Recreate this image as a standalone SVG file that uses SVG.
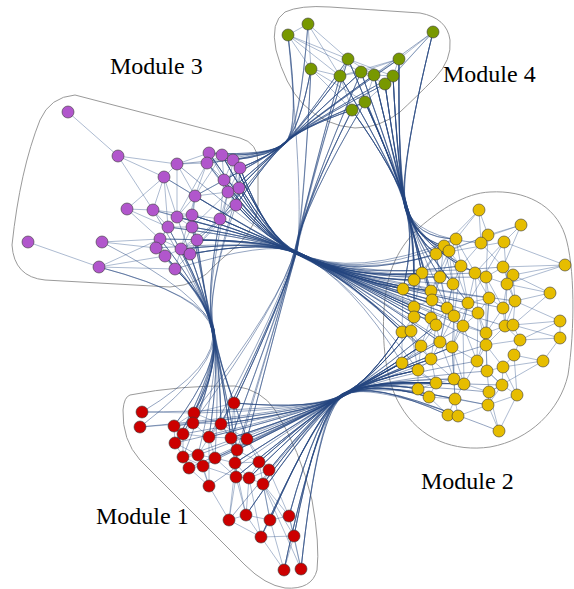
<svg xmlns="http://www.w3.org/2000/svg" width="574" height="589" viewBox="0 0 574 589">
<style>
.hull{fill:none;stroke:#9a9a9a;stroke-width:1}
.e{fill:none;stroke:#3a5c90;stroke-width:0.6;stroke-opacity:0.7}
.b{fill:none;stroke:#23457f;stroke-width:0.65;stroke-opacity:0.75}
circle{stroke:#3a3a3a;stroke-width:0.6}
.m1{fill:#cc0000}
.m2{fill:#e6bd00}
.m3{fill:#b156cc}
.m4{fill:#789800}
.lab{font-family:"Liberation Serif","Times New Roman",serif;font-size:24px;fill:#000}
</style>
<rect width="574" height="589" fill="#fff"/>
<g id="hulls">
<path id="hull-m3" class="hull" d="M75 95 L240 138 Q258 143 258 162 L258 205 Q257 225 240 243 L215 265 Q200 285 170 287 L45 280 Q14 277 12 245 Q20 170 40 120 Q50 97 75 95 Z"/>
<path id="hull-m4" class="hull" d="M285 12 Q300 5 330 7 L420 13 Q447 18 450 40 Q452 60 435 78 Q415 98 400 112 Q380 128 355 128 Q325 126 303 104 Q285 85 276 50 Q270 22 285 12 Z"/>
<path id="hull-m2" class="hull" d="M490 192 C525 190 555 205 565 235 C575 265 575 330 568 375 C560 410 530 440 490 447 C455 452 420 440 400 405 C385 380 382 340 384 310 C386 270 400 245 420 227 C440 210 465 193 490 192 Z"/>
<path id="hull-m1" class="hull" d="M130 395 Q180 385 235 386 Q262 390 275 410 Q300 450 312 500 Q320 545 317 570 Q312 590 285 588 Q265 585 245 565 L140 460 Q122 440 123 410 Q124 397 130 395 Z"/>
</g>
<g id="connectors">
<path id="edges-m3" class="e" d="M68 112L118 156M118 156L164 177M118 156L177 164M118 156L153 210M177 164L164 177M177 164L207 163M177 164L209 153M177 164L195 196M164 177L153 210M164 177L195 196M164 177L177 217M164 177L127 209M209 153L222 155M209 153L207 163M209 153L233 160M209 153L224 180M222 155L207 163M222 155L233 160M222 155L240 168M222 155L224 180M207 163L224 180M207 163L195 196M207 163L228 192M233 160L240 168M233 160L224 180M233 160L239 188M240 168L224 180M240 168L239 188M240 168L236 205M224 180L239 188M224 180L228 192M224 180L195 196M239 188L228 192M239 188L236 205M228 192L236 205M228 192L220 219M228 192L195 196M236 205L220 219M195 196L177 217M195 196L192 215M195 196L192 227M127 209L153 210M127 209L160 239M153 210L177 217M153 210L168 227M153 210L192 215M177 217L192 215M177 217L168 227M177 217L192 227M192 215L192 227M192 215L220 219M192 215L197 240M220 219L197 240M220 219L190 254M168 227L192 227M168 227L160 239M168 227L156 248M192 227L197 240M192 227L181 249M160 239L156 248M160 239L181 249M160 239L165 256M197 240L190 254M197 240L181 249M156 248L165 256M156 248L175 269M181 249L190 254M181 249L165 256M181 249L175 269M190 254L175 269M165 256L175 269M28 242L99 267M102 242L160 239M102 242L156 248M99 267L175 269M99 267L165 256M99 267L160 239M127 209L168 227M207 163L177 217M222 155L195 196M224 180L220 219M233 160L228 192M236 205L197 240M239 188L220 219M240 168L228 192M164 177L168 227M177 164L177 217M195 196L181 249M228 192L192 227M220 219L181 249M236 205L190 254"/>
<path id="edges-m4" class="e" d="M308 24L288 35M288 35L348 59M288 35L340 76M308 24L311 69M288 35L311 69M311 69L340 76M348 59L374 75M433 32L399 59M433 32L385 84M433 32L393 76M399 59L361 72M399 59L340 76M399 59L374 75M340 76L361 72M361 72L374 75M374 75L393 76M393 76L385 84M385 84L365 102M365 102L352 110M340 76L352 110M348 59L393 76M288 35L361 72M308 24L340 76M311 69L352 110M348 59L340 76M361 72L385 84M399 59L393 76M374 75L365 102M308 24L348 59M311 69L365 102"/>
<path id="edges-m1" class="e" d="M234 403L221 424M234 403L231 438M234 403L194 413M234 403L209 437M234 403L237 450M142 412L194 413M140 427L193 423M194 413L193 423M194 413L174 426M194 413L221 424M193 423L174 426M193 423L183 434M193 423L209 437M193 423L221 424M174 426L183 434M174 426L175 443M221 424L209 437M221 424L231 438M221 424L247 439M183 434L175 443M183 434L209 437M183 434L183 457M209 437L231 438M209 437L198 455M209 437L215 458M231 438L247 439M231 438L237 450M231 438L235 463M247 439L237 450M247 439L259 462M175 443L183 457M175 443L198 455M237 450L215 458M237 450L235 463M237 450L259 462M183 457L198 455M183 457L189 468M183 457L203 466M198 455L215 458M198 455L203 466M215 458L235 463M215 458L203 466M215 458L236 477M235 463L259 462M235 463L236 477M235 463L249 478M259 462L269 470M259 462L249 478M189 468L203 466M189 468L209 486M203 466L209 486M203 466L236 477M269 470L263 484M269 470L249 478M236 477L249 478M236 477L229 520M249 478L263 484M249 478L246 515M263 484L270 520M209 486L229 520M229 520L246 515M229 520L261 537M246 515L270 520M246 515L261 537M270 520L289 516M270 520L261 537M270 520L284 570M289 516L294 536M289 516L301 569M261 537L284 570M261 537L294 536M294 536L301 569M236 477L246 515M263 484L289 516M237 450L229 520M235 463L246 515M247 439L269 470M209 437L209 486M234 403L247 439M237 450L236 477M263 484L294 536M259 462L270 520M269 470L289 516M249 478L261 537M294 536L284 570M263 484L301 569M198 455L209 486M221 424L237 450"/>
<path id="edges-m2" class="e" d="M479 210L456 239M479 210L481 243M479 210L436 254M479 210L488 235M521 225L488 235M521 225L504 242M521 225L436 254M521 225L503 267M456 239L444 246M456 239L461 266M456 239L475 273M456 239L432 300M488 235L481 243M488 235L449 251M488 235L486 277M481 243L461 266M481 243L503 267M504 242L475 273M504 242L507 284M504 242L436 254M504 242L468 303M444 246L422 273M444 246L440 277M444 246L453 284M449 251L461 266M449 251L431 291M449 251L468 303M449 251L453 284M436 254L414 280M436 254L440 277M436 254L447 308M436 254L422 273M565 265L503 267M565 265L513 275M565 265L504 242M565 265L507 284M461 266L475 273M461 266L453 284M461 266L468 303M461 266L454 316M503 267L513 275M503 267L486 277M503 267L515 301M475 273L486 277M475 273L489 298M475 273L478 313M475 273L463 326M513 275L507 284M513 275L515 301M513 275L550 293M486 277L507 284M486 277L489 298M486 277L503 308M486 277L486 333M422 273L414 280M422 273L431 291M422 273L414 307M422 273L432 300M414 280L403 289M414 280L432 300M414 280L414 317M440 277L431 291M440 277L447 308M440 277L432 300M453 284L468 303M453 284L454 316M453 284L447 308M453 284L440 342M507 284L515 301M507 284L503 308M507 284L505 326M403 289L414 307M403 289L402 332M403 289L431 291M431 291L432 300M431 291L431 318M431 291L447 308M550 293L515 301M550 293L513 325M550 293L507 284M432 300L414 307M432 300L431 318M432 300L436 325M489 298L468 303M489 298L503 308M489 298L478 313M489 298L486 333M489 298L486 345M515 301L503 308M515 301L513 325M515 301L505 326M468 303L478 313M468 303L454 316M468 303L463 326M468 303L452 347M414 307L414 317M414 307L411 331M447 308L454 316M447 308L436 325M447 308L440 342M503 308L505 326M503 308L486 333M478 313L463 326M478 313L486 333M478 313L486 345M478 313L477 361M414 317L402 332M414 317L411 331M414 317L431 318M431 318L436 325M431 318L421 346M454 316L463 326M454 316L452 347M454 316L440 342M454 316L454 379M560 321L513 325M560 321L520 340M560 321L560 338M560 321L515 301M436 325L440 342M436 325L421 346M436 325L431 359M463 326L486 333M463 326L452 347M463 326L477 361M463 326L464 384M505 326L513 325M505 326L486 333M505 326L520 340M505 326L486 345M513 325L520 340M402 332L411 331M402 332L402 363M402 332L421 346M411 331L421 346M411 331L418 370M486 333L486 345M486 333L477 361M486 333L487 371M440 342L452 347M440 342L431 359M440 342L454 379M520 340L560 338M520 340L514 355M520 340L486 345M560 338L513 325M560 338L543 361M421 346L402 363M421 346L431 359M421 346L418 370M452 347L477 361M452 347L454 379M452 347L464 384M452 347L455 399M486 345L477 361M486 345L503 367M486 345L487 371M514 355L543 361M514 355L503 367M514 355L517 395M543 361L503 367M543 361L489 392M402 363L418 370M402 363L436 383M431 359L418 370M431 359L436 383M431 359L454 379M477 361L487 371M477 361L464 384M477 361L502 385M503 367L487 371M503 367L502 385M503 367L517 395M418 370L418 389M418 370L436 383M487 371L502 385M487 371L489 392M454 379L464 384M454 379L436 383M454 379L455 399M436 383L418 389M436 383L429 397M464 384L455 399M464 384L489 392M502 385L489 392M502 385L517 395M502 385L488 405M418 389L429 397M429 397L448 415M429 397L455 399M489 392L488 405M489 392L499 431M517 395L488 405M517 395L499 431M455 399L448 415M455 399L458 416M455 399L488 405M488 405L499 431M488 405L458 416M448 415L458 416"/>
<path id="bundle-m3-m4" class="b" d="M209 153Q270 156 285 143Q300 128 288 35M209 153Q270 156 284 144Q300 128 340 76M222 155Q270 156 286 142Q300 128 308 24M222 155Q270 156 285 143Q300 128 361 72M233 160Q270 156 284 143Q300 128 348 59M233 160Q270 156 285 144Q300 128 352 110M240 168Q270 156 286 143Q300 128 288 35M240 168Q270 156 285 142Q300 128 374 75M240 168Q270 156 284 144Q300 128 365 102M239 188Q270 156 285 143Q300 128 311 69M239 188Q270 156 286 142Q300 128 393 76M239 188Q270 156 284 143Q300 128 340 76M236 205Q270 156 285 144Q300 128 385 84M236 205Q270 156 286 143Q300 128 361 72M224 180Q270 156 285 142Q300 128 365 102M224 180Q270 156 284 144Q300 128 433 32M228 192Q270 156 286 142Q300 128 399 59M228 192Q270 156 285 143Q300 128 352 110M207 163Q270 156 284 143Q300 128 311 69M207 163Q270 156 285 144Q300 128 374 75M220 219Q270 156 286 143Q300 128 340 76M220 219Q270 156 285 142Q300 128 365 102M177 164Q270 156 284 144Q300 128 308 24M195 196Q270 156 286 142Q300 128 361 72M236 205Q270 156 285 143Q300 128 352 110M222 155Q270 156 284 143Q300 128 385 84M233 160Q270 156 285 144Q300 128 311 69M239 188Q270 156 286 143Q300 128 399 59M240 168Q270 156 285 142Q300 128 393 76M228 192Q270 156 284 144Q300 128 348 59"/>
<path id="bundle-m3-m2" class="b" d="M209 153Q268 240 297 253Q352 280 436 254M209 153Q268 240 296 254Q352 280 403 289M222 155Q268 240 298 252Q352 280 414 280M222 155Q268 240 297 253Q352 280 414 307M207 163Q268 240 296 253Q352 280 422 273M233 160Q268 240 297 254Q352 280 431 291M233 160Q268 240 298 253Q352 280 402 332M240 168Q268 240 297 252Q352 280 444 246M240 168Q268 240 296 254Q352 280 432 300M224 180Q268 240 297 253Q352 280 403 289M224 180Q268 240 298 254Q352 280 431 318M239 188Q268 240 296 252Q352 280 440 277M239 188Q268 240 297 253Q352 280 411 331M228 192Q268 240 298 253Q352 280 422 273M228 192Q268 240 297 254Q352 280 447 308M236 205Q268 240 296 253Q352 280 436 254M236 205Q268 240 297 252Q352 280 414 317M236 205Q268 240 298 254Q352 280 436 325M195 196Q268 240 297 253Q352 280 414 280M195 196Q268 240 296 254Q352 280 421 346M177 217Q268 240 298 252Q352 280 431 291M177 217Q268 240 297 253Q352 280 414 307M192 215Q268 240 296 253Q352 280 403 289M192 215Q268 240 297 254Q352 280 454 316M220 219Q268 240 298 253Q352 280 422 273M220 219Q268 240 297 252Q352 280 432 300M220 219Q268 240 296 254Q352 280 402 332M220 219Q268 240 297 253Q352 280 402 363M168 227Q268 240 298 254Q352 280 414 280M192 227Q268 240 296 252Q352 280 414 307M192 227Q268 240 297 253Q352 280 411 331M197 240Q268 240 298 253Q352 280 403 289M197 240Q268 240 297 254Q352 280 414 317M197 240Q268 240 296 253Q352 280 431 291M181 249Q268 240 297 252Q352 280 422 273M181 249Q268 240 298 254Q352 280 431 318M190 254Q268 240 296 253Q352 280 402 332M190 254Q268 240 297 253Q352 280 440 277M156 248Q268 240 298 252Q352 280 403 289M160 239Q268 240 297 254Q352 280 414 307M153 210Q268 240 296 253Q352 280 414 280M177 164Q268 240 297 253Q352 280 431 291M164 177Q268 240 298 254Q352 280 403 289M224 180Q268 240 296 252Q352 280 449 251M239 188Q268 240 297 253Q352 280 468 303M228 192Q268 240 298 253Q352 280 440 342M240 168Q268 240 296 254Q352 280 461 266M222 155Q268 240 297 252Q352 280 456 239M233 160Q268 240 298 254Q352 280 453 284M236 205Q268 240 296 253Q352 280 447 308M190 254Q268 240 297 254Q352 280 421 346M175 269Q268 240 298 252Q352 280 402 332M192 215Q268 240 296 253Q352 280 431 359M197 240Q268 240 297 253Q352 280 418 370M209 153Q268 240 297 253Q352 280 486 277M222 155Q268 240 296 254Q352 280 489 298M233 160Q268 240 298 252Q352 280 503 308M240 168Q268 240 297 253Q352 280 475 273M224 180Q268 240 296 253Q352 280 478 313M239 188Q268 240 297 254Q352 280 505 326M228 192Q268 240 298 253Q352 280 463 326M236 205Q268 240 297 252Q352 280 486 333M195 196Q268 240 296 254Q352 280 454 316M177 217Q268 240 297 253Q352 280 468 303M192 215Q268 240 298 254Q352 280 486 345M220 219Q268 240 296 252Q352 280 515 301M192 227Q268 240 297 253Q352 280 452 347M197 240Q268 240 298 253Q352 280 436 325M181 249Q268 240 297 254Q352 280 447 308M190 254Q268 240 296 253Q352 280 440 342M207 163Q268 240 297 252Q352 280 503 267M233 160Q268 240 298 254Q352 280 461 266M168 227Q268 240 296 253Q352 280 431 318M160 239Q268 240 297 253Q352 280 414 317"/>
<path id="bundle-m4-m2" class="b" d="M433 32Q398 175 406 207Q415 238 436 254M433 32Q398 175 405 208Q415 238 422 273M399 59Q398 175 407 206Q415 238 444 246M399 59Q398 175 406 207Q415 238 414 280M399 59Q398 175 405 206Q415 238 403 289M374 75Q398 175 407 208Q415 238 449 251M374 75Q398 175 406 206Q415 238 422 273M374 75Q398 175 405 207Q415 238 431 291M393 76Q398 175 407 207Q415 238 456 239M393 76Q398 175 406 208Q415 238 414 280M393 76Q398 175 405 206Q415 238 432 300M385 84Q398 175 407 206Q415 238 436 254M385 84Q398 175 406 207Q415 238 440 277M385 84Q398 175 405 208Q415 238 403 289M365 102Q398 175 407 207Q415 238 444 246M365 102Q398 175 406 206Q415 238 422 273M365 102Q398 175 405 207Q415 238 414 307M352 110Q398 175 407 208Q415 238 414 280M352 110Q398 175 406 207Q415 238 461 266M352 110Q398 175 405 206Q415 238 431 291M361 72Q398 175 407 206Q415 238 436 254M361 72Q398 175 406 208Q415 238 403 289M348 59Q398 175 405 207Q415 238 422 273M348 59Q398 175 407 207Q415 238 456 239M340 76Q398 175 406 206Q415 238 414 280M340 76Q398 175 405 208Q415 238 449 251M393 76Q398 175 407 206Q415 238 453 284M385 84Q398 175 406 207Q415 238 444 246M365 102Q398 175 405 206Q415 238 481 243M374 75Q398 175 407 207Q415 238 475 273M399 59Q398 175 406 208Q415 238 432 300M433 32Q398 175 405 207Q415 238 461 266M433 32Q398 175 406 207Q415 238 475 273M399 59Q398 175 405 208Q415 238 461 266M374 75Q398 175 407 206Q415 238 440 277M393 76Q398 175 406 207Q415 238 468 303M385 84Q398 175 405 206Q415 238 447 308M365 102Q398 175 407 208Q415 238 453 284M352 110Q398 175 406 206Q415 238 432 300M361 72Q398 175 405 207Q415 238 449 251M348 59Q398 175 407 207Q415 238 414 307M340 76Q398 175 406 208Q415 238 436 254"/>
<path id="bundle-m4-m1" class="b" d="M311 69Q304 205 296 250Q283 300 234 403M340 76Q304 205 297 249Q283 300 221 424M365 102Q304 205 295 251Q283 300 231 438M352 110Q304 205 296 250Q283 300 234 403M352 110Q304 205 297 251Q283 300 247 439M348 59Q304 205 295 249Q283 300 194 413M361 72Q304 205 296 251Q283 300 237 450M288 35Q304 205 297 250Q283 300 221 424M365 102Q304 205 295 250Q283 300 209 437M340 76Q304 205 296 249Q283 300 235 463M311 69Q304 205 297 251Q283 300 231 438M352 110Q304 205 295 249Q283 300 193 423M361 72Q304 205 296 250Q283 300 234 403M348 59Q304 205 297 250Q283 300 247 439"/>
<path id="bundle-m3-m1" class="b" d="M168 227Q205 295 213 330Q220 365 194 413M168 227Q205 295 212 331Q220 365 183 434M192 227Q205 295 214 329Q220 365 234 403M192 227Q205 295 213 330Q220 365 209 437M160 239Q205 295 212 330Q220 365 193 423M160 239Q205 295 214 331Q220 365 175 443M197 240Q205 295 213 329Q220 365 221 424M197 240Q205 295 212 331Q220 365 231 438M156 248Q205 295 214 330Q220 365 174 426M156 248Q205 295 213 331Q220 365 183 457M181 249Q205 295 212 329Q220 365 234 403M181 249Q205 295 214 330Q220 365 198 455M190 254Q205 295 213 330Q220 365 209 437M190 254Q205 295 212 331Q220 365 237 450M165 256Q205 295 214 329Q220 365 194 413M165 256Q205 295 213 331Q220 365 215 458M175 269Q205 295 212 330Q220 365 221 424M175 269Q205 295 214 330Q220 365 183 434M177 217Q205 295 213 329Q220 365 193 423M192 215Q205 295 212 331Q220 365 231 438M220 219Q205 295 214 331Q220 365 234 403M220 219Q205 295 213 330Q220 365 247 439M99 267Q205 295 212 330Q220 365 142 412M99 267Q205 295 214 329Q220 365 140 427M102 242Q205 295 213 331Q220 365 174 426M153 210Q205 295 212 329Q220 365 175 443M236 205Q205 295 214 330Q220 365 221 424M239 188Q205 295 213 330Q220 365 237 450M228 192Q205 295 212 331Q220 365 194 413M181 249Q205 295 214 331Q220 365 235 463"/>
<path id="bundle-m1-m2" class="b" d="M234 403Q318 410 343 395Q370 380 402 332M234 403Q318 410 342 396Q370 380 402 363M221 424Q318 410 344 394Q370 380 421 346M221 424Q318 410 343 396Q370 380 418 370M231 438Q318 410 342 395Q370 380 411 331M231 438Q318 410 344 395Q370 380 436 383M247 439Q318 410 343 394Q370 380 402 363M247 439Q318 410 342 396Q370 380 429 397M237 450Q318 410 344 396Q370 380 418 370M237 450Q318 410 343 395Q370 380 418 389M235 463Q318 410 342 394Q370 380 431 359M235 463Q318 410 344 395Q370 380 402 332M259 462Q318 410 343 396Q370 380 421 346M259 462Q318 410 342 395Q370 380 448 415M269 470Q318 410 344 394Q370 380 436 383M269 470Q318 410 343 395Q370 380 402 363M236 477Q318 410 342 396Q370 380 418 389M236 477Q318 410 344 396Q370 380 440 342M249 478Q318 410 343 394Q370 380 418 370M249 478Q318 410 342 395Q370 380 458 416M263 484Q318 410 344 395Q370 380 429 397M263 484Q318 410 343 396Q370 380 454 379M246 515Q318 410 342 394Q370 380 402 363M246 515Q318 410 344 396Q370 380 455 399M270 520Q318 410 343 395Q370 380 436 383M270 520Q318 410 342 396Q370 380 436 325M289 516Q318 410 344 394Q370 380 418 370M289 516Q318 410 343 395Q370 380 464 384M261 537Q318 410 342 395Q370 380 418 389M261 537Q318 410 344 396Q370 380 452 347M294 536Q318 410 343 394Q370 380 448 415M294 536Q318 410 342 396Q370 380 431 359M284 570Q318 410 344 395Q370 380 429 397M284 570Q318 410 343 396Q370 380 411 331M301 569Q318 410 342 394Q370 380 436 383M301 569Q318 410 344 395Q370 380 499 431M209 437Q318 410 343 395Q370 380 421 346M215 458Q318 410 342 396Q370 380 402 332M203 466Q318 410 344 394Q370 380 418 370M198 455Q318 410 343 396Q370 380 402 363M194 413Q318 410 342 395Q370 380 411 331M193 423Q318 410 344 395Q370 380 418 389M229 520Q318 410 343 394Q370 380 436 383M209 486Q318 410 342 396Q370 380 421 346M189 468Q318 410 344 396Q370 380 429 397M183 457Q318 410 343 395Q370 380 431 359M175 443Q318 410 342 394Q370 380 418 370M183 434Q318 410 344 395Q370 380 402 332M174 426Q318 410 343 396Q370 380 402 363M142 412Q318 410 342 395Q370 380 421 346M140 427Q318 410 344 394Q370 380 436 383M234 403Q318 410 343 395Q370 380 452 347M221 424Q318 410 342 396Q370 380 477 361M231 438Q318 410 344 394Q370 380 464 384M247 439Q318 410 343 396Q370 380 486 345M237 450Q318 410 342 395Q370 380 440 342M235 463Q318 410 344 395Q370 380 487 371M259 462Q318 410 343 394Q370 380 454 379M269 470Q318 410 342 396Q370 380 502 385M236 477Q318 410 344 396Q370 380 463 326M249 478Q318 410 343 395Q370 380 489 392M263 484Q318 410 342 394Q370 380 436 325M246 515Q318 410 344 395Q370 380 431 359M270 520Q318 410 343 396Q370 380 488 405M289 516Q318 410 342 395Q370 380 452 347M261 537Q318 410 344 394Q370 380 402 332M294 536Q318 410 343 396Q370 380 455 399M284 570Q318 410 342 394Q370 380 464 384M301 569Q318 410 344 396Q370 380 458 416M209 437Q318 410 343 394Q370 380 411 331M215 458Q318 410 342 395Q370 380 436 383"/>
</g>
<g id="nodes-m3">
<g id="p1"><circle class="m3" cx="68" cy="112" r="6"/></g>
<g id="p2"><circle class="m3" cx="118" cy="156" r="6"/></g>
<g id="p3"><circle class="m3" cx="177" cy="164" r="6"/></g>
<g id="p4"><circle class="m3" cx="164" cy="177" r="6"/></g>
<g id="p5"><circle class="m3" cx="209" cy="153" r="6"/></g>
<g id="p6"><circle class="m3" cx="222" cy="155" r="6"/></g>
<g id="p7"><circle class="m3" cx="207" cy="163" r="6"/></g>
<g id="p8"><circle class="m3" cx="233" cy="160" r="6"/></g>
<g id="p9"><circle class="m3" cx="240" cy="168" r="6"/></g>
<g id="p10"><circle class="m3" cx="224" cy="180" r="6"/></g>
<g id="p11"><circle class="m3" cx="239" cy="188" r="6"/></g>
<g id="p12"><circle class="m3" cx="228" cy="192" r="6"/></g>
<g id="p13"><circle class="m3" cx="236" cy="205" r="6"/></g>
<g id="p14"><circle class="m3" cx="195" cy="196" r="6"/></g>
<g id="p15"><circle class="m3" cx="127" cy="209" r="6"/></g>
<g id="p16"><circle class="m3" cx="153" cy="210" r="6"/></g>
<g id="p17"><circle class="m3" cx="177" cy="217" r="6"/></g>
<g id="p18"><circle class="m3" cx="192" cy="215" r="6"/></g>
<g id="p19"><circle class="m3" cx="220" cy="219" r="6"/></g>
<g id="p20"><circle class="m3" cx="168" cy="227" r="6"/></g>
<g id="p21"><circle class="m3" cx="192" cy="227" r="6"/></g>
<g id="p22"><circle class="m3" cx="160" cy="239" r="6"/></g>
<g id="p23"><circle class="m3" cx="197" cy="240" r="6"/></g>
<g id="p24"><circle class="m3" cx="156" cy="248" r="6"/></g>
<g id="p25"><circle class="m3" cx="181" cy="249" r="6"/></g>
<g id="p26"><circle class="m3" cx="190" cy="254" r="6"/></g>
<g id="p27"><circle class="m3" cx="165" cy="256" r="6"/></g>
<g id="p28"><circle class="m3" cx="175" cy="269" r="6"/></g>
<g id="p29"><circle class="m3" cx="28" cy="242" r="6"/></g>
<g id="p30"><circle class="m3" cx="102" cy="242" r="6"/></g>
<g id="p31"><circle class="m3" cx="99" cy="267" r="6"/></g>
</g>
<g id="nodes-m4">
<g id="g1"><circle class="m4" cx="308" cy="24" r="6"/></g>
<g id="g2"><circle class="m4" cx="288" cy="35" r="6"/></g>
<g id="g3"><circle class="m4" cx="433" cy="32" r="6"/></g>
<g id="g4"><circle class="m4" cx="348" cy="59" r="6"/></g>
<g id="g5"><circle class="m4" cx="399" cy="59" r="6"/></g>
<g id="g6"><circle class="m4" cx="311" cy="69" r="6"/></g>
<g id="g7"><circle class="m4" cx="340" cy="76" r="6"/></g>
<g id="g8"><circle class="m4" cx="361" cy="72" r="6"/></g>
<g id="g9"><circle class="m4" cx="374" cy="75" r="6"/></g>
<g id="g10"><circle class="m4" cx="393" cy="76" r="6"/></g>
<g id="g11"><circle class="m4" cx="385" cy="84" r="6"/></g>
<g id="g12"><circle class="m4" cx="365" cy="102" r="6"/></g>
<g id="g13"><circle class="m4" cx="352" cy="110" r="6"/></g>
</g>
<g id="nodes-m2">
<g id="y1"><circle class="m2" cx="479" cy="210" r="6"/></g>
<g id="y2"><circle class="m2" cx="521" cy="225" r="6"/></g>
<g id="y3"><circle class="m2" cx="456" cy="239" r="6"/></g>
<g id="y4"><circle class="m2" cx="488" cy="235" r="6"/></g>
<g id="y5"><circle class="m2" cx="481" cy="243" r="6"/></g>
<g id="y6"><circle class="m2" cx="504" cy="242" r="6"/></g>
<g id="y7"><circle class="m2" cx="444" cy="246" r="6"/></g>
<g id="y8"><circle class="m2" cx="449" cy="251" r="6"/></g>
<g id="y9"><circle class="m2" cx="436" cy="254" r="6"/></g>
<g id="y10"><circle class="m2" cx="565" cy="265" r="6"/></g>
<g id="y11"><circle class="m2" cx="461" cy="266" r="6"/></g>
<g id="y12"><circle class="m2" cx="503" cy="267" r="6"/></g>
<g id="y13"><circle class="m2" cx="475" cy="273" r="6"/></g>
<g id="y14"><circle class="m2" cx="513" cy="275" r="6"/></g>
<g id="y15"><circle class="m2" cx="486" cy="277" r="6"/></g>
<g id="y16"><circle class="m2" cx="422" cy="273" r="6"/></g>
<g id="y17"><circle class="m2" cx="414" cy="280" r="6"/></g>
<g id="y18"><circle class="m2" cx="440" cy="277" r="6"/></g>
<g id="y19"><circle class="m2" cx="453" cy="284" r="6"/></g>
<g id="y20"><circle class="m2" cx="507" cy="284" r="6"/></g>
<g id="y21"><circle class="m2" cx="403" cy="289" r="6"/></g>
<g id="y22"><circle class="m2" cx="431" cy="291" r="6"/></g>
<g id="y23"><circle class="m2" cx="550" cy="293" r="6"/></g>
<g id="y24"><circle class="m2" cx="432" cy="300" r="6"/></g>
<g id="y25"><circle class="m2" cx="489" cy="298" r="6"/></g>
<g id="y26"><circle class="m2" cx="515" cy="301" r="6"/></g>
<g id="y27"><circle class="m2" cx="468" cy="303" r="6"/></g>
<g id="y28"><circle class="m2" cx="414" cy="307" r="6"/></g>
<g id="y29"><circle class="m2" cx="447" cy="308" r="6"/></g>
<g id="y30"><circle class="m2" cx="503" cy="308" r="6"/></g>
<g id="y31"><circle class="m2" cx="478" cy="313" r="6"/></g>
<g id="y32"><circle class="m2" cx="414" cy="317" r="6"/></g>
<g id="y33"><circle class="m2" cx="431" cy="318" r="6"/></g>
<g id="y34"><circle class="m2" cx="454" cy="316" r="6"/></g>
<g id="y35"><circle class="m2" cx="560" cy="321" r="6"/></g>
<g id="y36"><circle class="m2" cx="436" cy="325" r="6"/></g>
<g id="y37"><circle class="m2" cx="463" cy="326" r="6"/></g>
<g id="y38"><circle class="m2" cx="505" cy="326" r="6"/></g>
<g id="y39"><circle class="m2" cx="513" cy="325" r="6"/></g>
<g id="y40"><circle class="m2" cx="402" cy="332" r="6"/></g>
<g id="y41"><circle class="m2" cx="411" cy="331" r="6"/></g>
<g id="y42"><circle class="m2" cx="486" cy="333" r="6"/></g>
<g id="y43"><circle class="m2" cx="440" cy="342" r="6"/></g>
<g id="y44"><circle class="m2" cx="520" cy="340" r="6"/></g>
<g id="y45"><circle class="m2" cx="560" cy="338" r="6"/></g>
<g id="y46"><circle class="m2" cx="421" cy="346" r="6"/></g>
<g id="y47"><circle class="m2" cx="452" cy="347" r="6"/></g>
<g id="y48"><circle class="m2" cx="486" cy="345" r="6"/></g>
<g id="y49"><circle class="m2" cx="514" cy="355" r="6"/></g>
<g id="y50"><circle class="m2" cx="543" cy="361" r="6"/></g>
<g id="y51"><circle class="m2" cx="402" cy="363" r="6"/></g>
<g id="y52"><circle class="m2" cx="431" cy="359" r="6"/></g>
<g id="y53"><circle class="m2" cx="477" cy="361" r="6"/></g>
<g id="y54"><circle class="m2" cx="503" cy="367" r="6"/></g>
<g id="y55"><circle class="m2" cx="418" cy="370" r="6"/></g>
<g id="y56"><circle class="m2" cx="487" cy="371" r="6"/></g>
<g id="y57"><circle class="m2" cx="454" cy="379" r="6"/></g>
<g id="y58"><circle class="m2" cx="436" cy="383" r="6"/></g>
<g id="y59"><circle class="m2" cx="464" cy="384" r="6"/></g>
<g id="y60"><circle class="m2" cx="502" cy="385" r="6"/></g>
<g id="y61"><circle class="m2" cx="418" cy="389" r="6"/></g>
<g id="y62"><circle class="m2" cx="429" cy="397" r="6"/></g>
<g id="y63"><circle class="m2" cx="489" cy="392" r="6"/></g>
<g id="y64"><circle class="m2" cx="517" cy="395" r="6"/></g>
<g id="y65"><circle class="m2" cx="455" cy="399" r="6"/></g>
<g id="y66"><circle class="m2" cx="488" cy="405" r="6"/></g>
<g id="y67"><circle class="m2" cx="448" cy="415" r="6"/></g>
<g id="y68"><circle class="m2" cx="458" cy="416" r="6"/></g>
<g id="y69"><circle class="m2" cx="499" cy="431" r="6"/></g>
</g>
<g id="nodes-m1">
<g id="r1"><circle class="m1" cx="234" cy="403" r="6"/></g>
<g id="r2"><circle class="m1" cx="142" cy="412" r="6"/></g>
<g id="r3"><circle class="m1" cx="194" cy="413" r="6"/></g>
<g id="r4"><circle class="m1" cx="140" cy="427" r="6"/></g>
<g id="r5"><circle class="m1" cx="193" cy="423" r="6"/></g>
<g id="r6"><circle class="m1" cx="174" cy="426" r="6"/></g>
<g id="r7"><circle class="m1" cx="221" cy="424" r="6"/></g>
<g id="r8"><circle class="m1" cx="183" cy="434" r="6"/></g>
<g id="r9"><circle class="m1" cx="209" cy="437" r="6"/></g>
<g id="r10"><circle class="m1" cx="231" cy="438" r="6"/></g>
<g id="r11"><circle class="m1" cx="247" cy="439" r="6"/></g>
<g id="r12"><circle class="m1" cx="175" cy="443" r="6"/></g>
<g id="r13"><circle class="m1" cx="237" cy="450" r="6"/></g>
<g id="r14"><circle class="m1" cx="183" cy="457" r="6"/></g>
<g id="r15"><circle class="m1" cx="198" cy="455" r="6"/></g>
<g id="r16"><circle class="m1" cx="215" cy="458" r="6"/></g>
<g id="r17"><circle class="m1" cx="235" cy="463" r="6"/></g>
<g id="r18"><circle class="m1" cx="259" cy="462" r="6"/></g>
<g id="r19"><circle class="m1" cx="189" cy="468" r="6"/></g>
<g id="r20"><circle class="m1" cx="203" cy="466" r="6"/></g>
<g id="r21"><circle class="m1" cx="269" cy="470" r="6"/></g>
<g id="r22"><circle class="m1" cx="236" cy="477" r="6"/></g>
<g id="r23"><circle class="m1" cx="249" cy="478" r="6"/></g>
<g id="r24"><circle class="m1" cx="263" cy="484" r="6"/></g>
<g id="r25"><circle class="m1" cx="209" cy="486" r="6"/></g>
<g id="r26"><circle class="m1" cx="229" cy="520" r="6"/></g>
<g id="r27"><circle class="m1" cx="246" cy="515" r="6"/></g>
<g id="r28"><circle class="m1" cx="270" cy="520" r="6"/></g>
<g id="r29"><circle class="m1" cx="289" cy="516" r="6"/></g>
<g id="r30"><circle class="m1" cx="261" cy="537" r="6"/></g>
<g id="r31"><circle class="m1" cx="294" cy="536" r="6"/></g>
<g id="r32"><circle class="m1" cx="284" cy="570" r="6"/></g>
<g id="r33"><circle class="m1" cx="301" cy="569" r="6"/></g>
</g>
<g id="labels">
<text class="lab" x="110" y="74">Module 3</text>
<text class="lab" x="443" y="82">Module 4</text>
<text class="lab" x="421" y="489">Module 2</text>
<text class="lab" x="96" y="524">Module 1</text>
</g>
</svg>
